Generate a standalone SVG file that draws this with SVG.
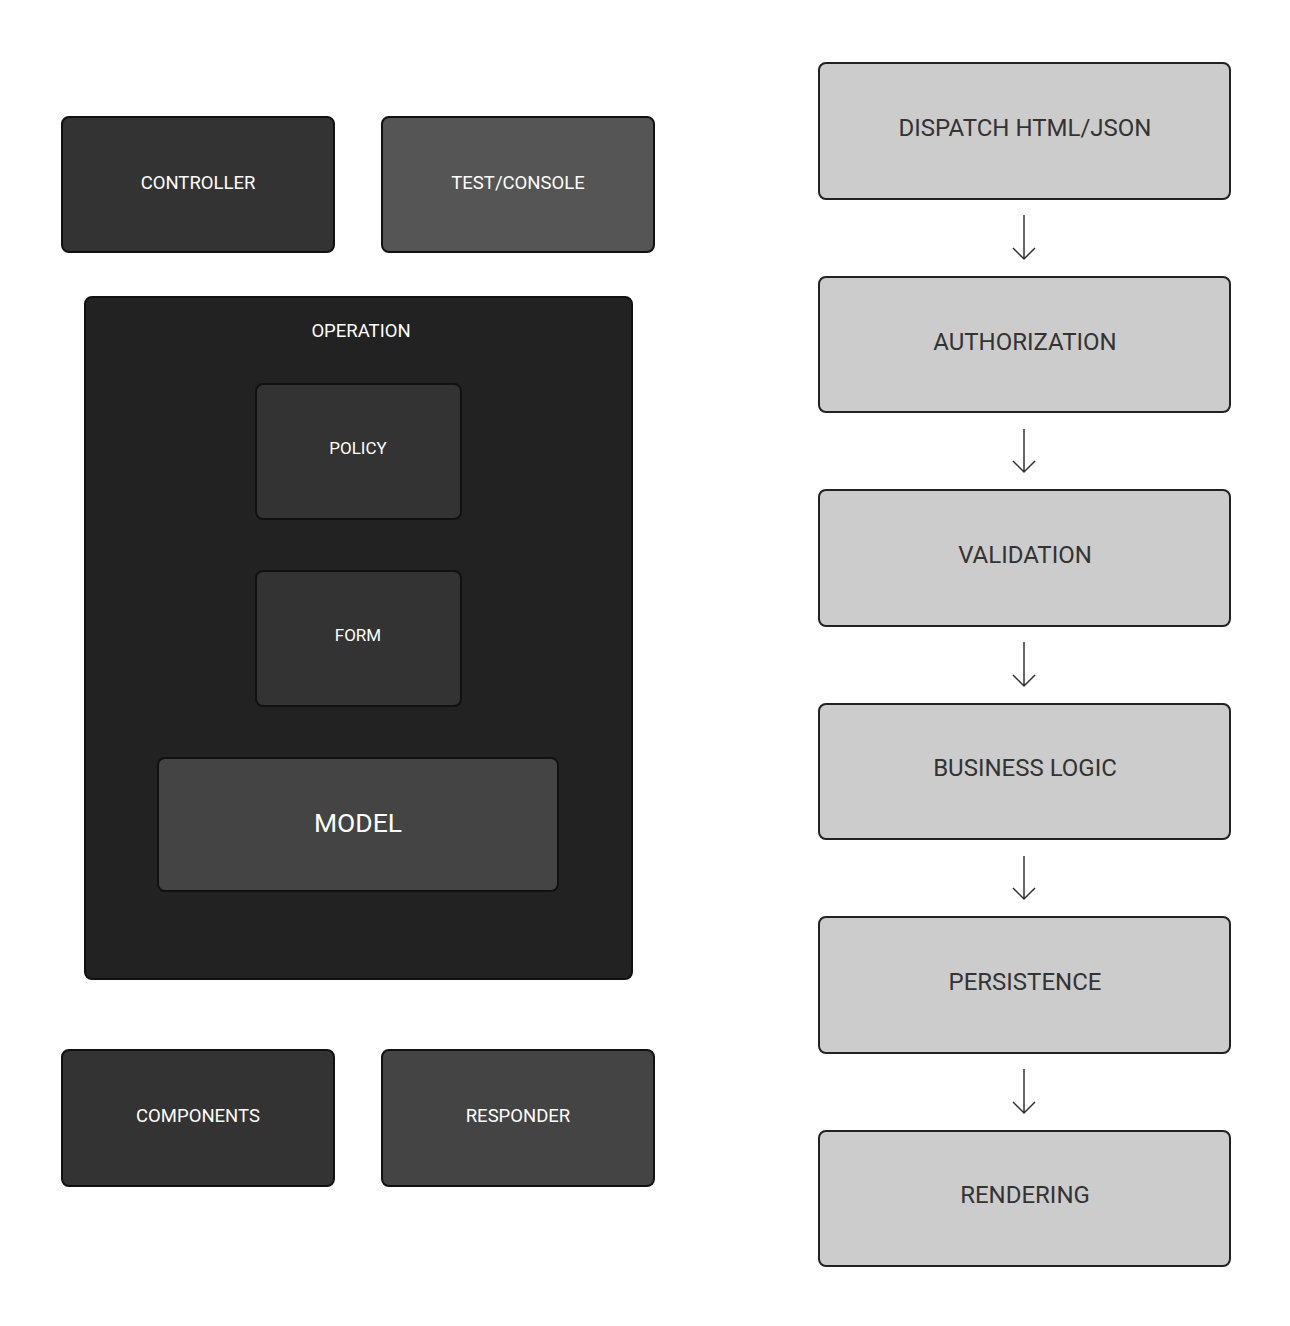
<svg xmlns="http://www.w3.org/2000/svg" width="1290" height="1326" viewBox="0 0 1290 1326">
<defs>
<style>
.box{stroke:#111;stroke-width:2}
.lt{font-family:Roboto,"Liberation Sans",sans-serif;fill:#fff;text-anchor:middle;dominant-baseline:central}
.dt{font-family:Roboto,"Liberation Sans",sans-serif;fill:#333;text-anchor:middle;dominant-baseline:central;font-size:24px}
.step{fill:#cccccc;stroke:#222;stroke-width:2}
.arr{stroke:#333;stroke-width:1.5;fill:none}
</style>
</defs>
<rect width="1290" height="1326" fill="#fff"/>
<g id="controller"><rect class="box" x="62" y="117" width="272" height="135" rx="7" fill="#333"/><text class="lt" x="198" y="183" font-size="18.5">CONTROLLER</text></g>
<g id="test-console"><rect class="box" x="382" y="117" width="272" height="135" rx="7" fill="#555"/><text class="lt" x="518" y="183" font-size="18.5">TEST/CONSOLE</text></g>
<g id="operation"><rect class="box" x="85" y="297" width="547" height="682" rx="7" fill="#222"/><text class="lt" x="361" y="331" font-size="18.5" fill="#eee">OPERATION</text></g>
<g id="policy"><rect class="box" x="256" y="384" width="205" height="135" rx="7" fill="#333"/><text class="lt" x="358" y="448" font-size="17">POLICY</text></g>
<g id="form"><rect class="box" x="256" y="571" width="205" height="135" rx="7" fill="#333"/><text class="lt" x="358" y="635" font-size="17">FORM</text></g>
<g id="model"><rect class="box" x="158" y="758" width="400" height="133" rx="7" fill="#444"/><text class="lt" x="358" y="822" font-size="26.5">MODEL</text></g>
<g id="components"><rect class="box" x="62" y="1050" width="272" height="136" rx="7" fill="#333"/><text class="lt" x="198" y="1116" font-size="18.5">COMPONENTS</text></g>
<g id="responder"><rect class="box" x="382" y="1050" width="272" height="136" rx="7" fill="#444"/><text class="lt" x="518" y="1116" font-size="18.5">RESPONDER</text></g>
<g id="dispatch"><rect class="step" x="819" y="63" width="411" height="136" rx="7"/><text class="dt" x="1025" y="128">DISPATCH HTML/JSON</text></g>
<g id="authorization"><rect class="step" x="819" y="277" width="411" height="135" rx="7"/><text class="dt" x="1025" y="342">AUTHORIZATION</text></g>
<g id="validation"><rect class="step" x="819" y="490" width="411" height="136" rx="7"/><text class="dt" x="1025" y="555">VALIDATION</text></g>
<g id="business-logic"><rect class="step" x="819" y="704" width="411" height="135" rx="7"/><text class="dt" x="1025" y="768">BUSINESS LOGIC</text></g>
<g id="persistence"><rect class="step" x="819" y="917" width="411" height="136" rx="7"/><text class="dt" x="1025" y="982">PERSISTENCE</text></g>
<g id="rendering"><rect class="step" x="819" y="1131" width="411" height="135" rx="7"/><text class="dt" x="1025" y="1195">RENDERING</text></g>
<g id="connectors">
<path class="arr" d="M1024 215V259M1013 248L1024 259L1035 248"/>
<path class="arr" d="M1024 429V472M1013 461L1024 472L1035 461"/>
<path class="arr" d="M1024 642V686M1013 675L1024 686L1035 675"/>
<path class="arr" d="M1024 856V899M1013 888L1024 899L1035 888"/>
<path class="arr" d="M1024 1069V1113M1013 1102L1024 1113L1035 1102"/>
</g>
</svg>
